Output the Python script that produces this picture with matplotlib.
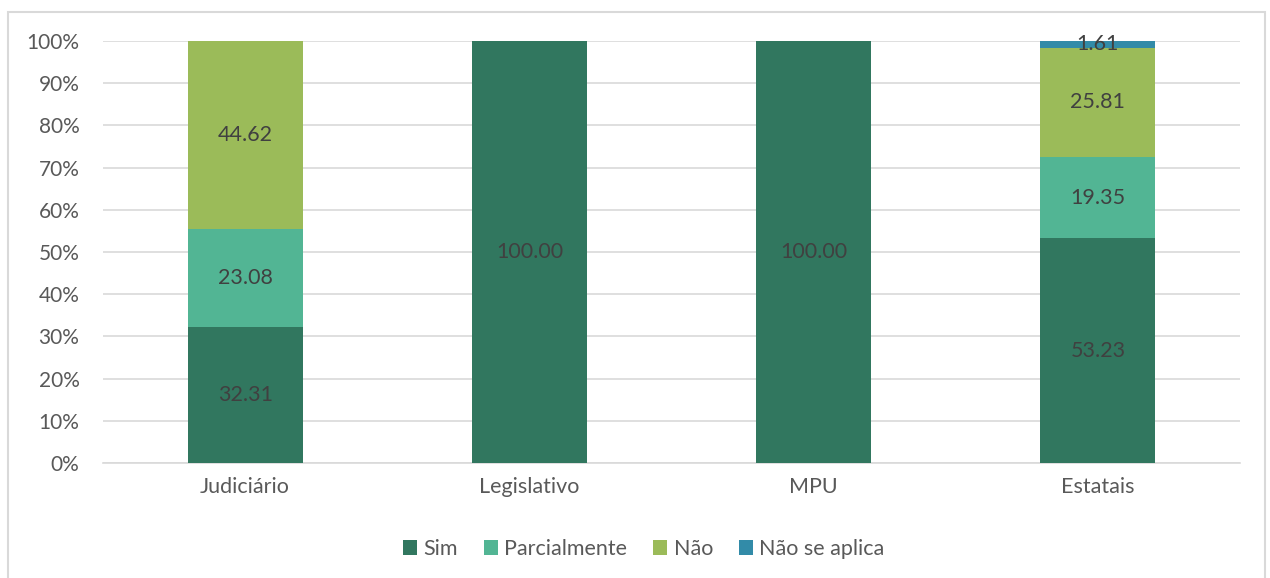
import matplotlib.pyplot as plt
import matplotlib.patches as mpatches
import numpy as np

categorias = ['Judiciário', 'Legislativo', 'MPU', 'Estatais']
series = ['Sim', 'Parcialmente', 'Não', 'Não se aplica']
sim = [32.31, 100.00, 100.00, 53.23]
parcialmente = [23.08, 0, 0, 19.35]
nao = [44.62, 0, 0, 25.81]
nao_se_aplica = [0, 0, 0, 1.61]
cores = ['#31775F', '#52B594', '#9BBB59', '#328BA8']

plt.rcParams['font.family'] = ['Lato', 'DejaVu Sans']

fig = plt.figure(figsize=(12.7, 5.78), dpi=100)
ax = fig.add_axes([103 / 1270, 1 - 463 / 578, (1240 - 103) / 1270, (463 - 41) / 578])

# moldura do gráfico
fig.patches.append(mpatches.Rectangle((8 / 1270, -0.01), 1257 / 1270, 1 - 12 / 578 + 0.01,
                                      transform=fig.transFigure, fill=False,
                                      edgecolor='#D9D9D9', linewidth=1.5))

x = np.arange(len(categorias))
base = np.zeros(len(categorias))
for nome, vals, cor in zip(series, [sim, parcialmente, nao, nao_se_aplica], cores):
    vals = np.array(vals)
    ax.bar(x, vals, 0.405, bottom=base, color=cor, label=nome, zorder=3)
    for xi, v, b in zip(x, vals, base):
        if v > 0:
            ax.text(xi, b + v / 2, f'{v:.2f}', ha='center', va='center',
                    fontsize=15.5, color='#404040', zorder=4)
    base += vals

ax.set_xlim(-0.5, 3.5)
ax.set_ylim(0, 100)
ax.set_yticks(np.arange(0, 101, 10))
ax.set_yticklabels([f'{v}%' for v in range(0, 101, 10)])
ax.set_xticks(x)
ax.set_xticklabels(categorias)
ax.grid(axis='y', color='#D9D9D9', linewidth=1.2, zorder=0)
for s in ['top', 'right', 'left']:
    ax.spines[s].set_visible(False)
ax.spines['bottom'].set_color('#D9D9D9')
ax.spines['bottom'].set_linewidth(1.2)
ax.tick_params(axis='both', length=0, labelsize=15.5, colors='#595959')
ax.tick_params(axis='y', labelsize=15, pad=17)
ax.tick_params(axis='x', pad=10)

fig.legend(loc='center', bbox_to_anchor=(0.507, 1 - 549 / 578), ncol=4, frameon=False,
           fontsize=15.5, labelcolor='#595959', handlelength=0.65, handleheight=0.65,
           handletextpad=0.3, columnspacing=1.2)

fig.savefig('out.png', dpi=100)
